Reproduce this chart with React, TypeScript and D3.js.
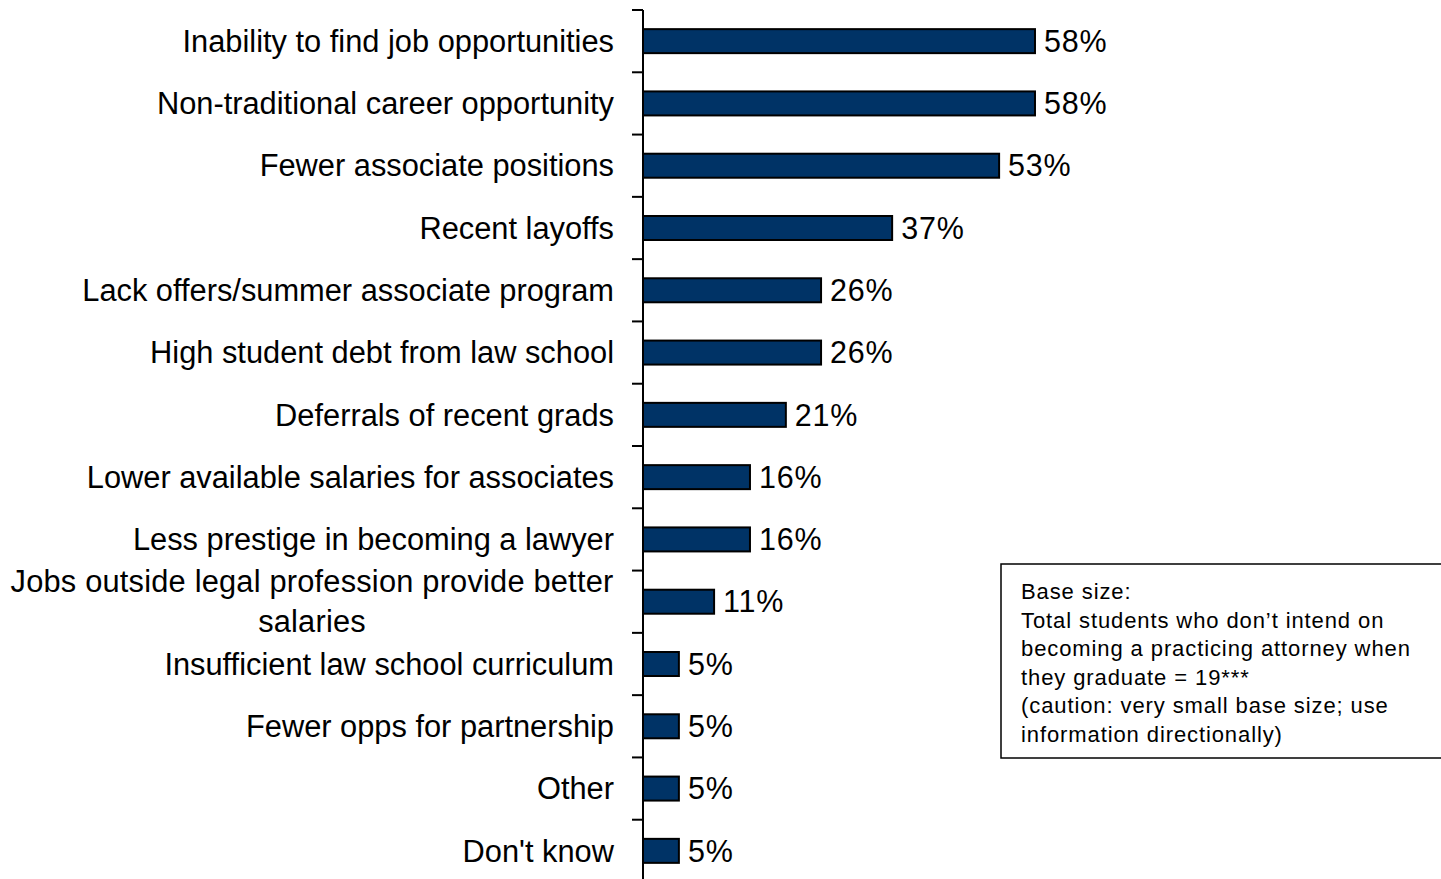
import React from "react";
import * as d3 from "d3";

const categories = [
  "Inability to find job opportunities",
  "Non-traditional career opportunity",
  "Fewer associate positions",
  "Recent layoffs",
  "Lack offers/summer associate program",
  "High student debt from law school",
  "Deferrals of recent grads",
  "Lower available salaries for associates",
  "Less prestige in becoming a lawyer",
  "Jobs outside legal profession provide better salaries",
  "Insufficient law school curriculum",
  "Fewer opps for partnership",
  "Other",
  "Don't know",
];
const values = [57.9, 57.9, 52.6, 36.8, 26.3, 26.3, 21.1, 15.8, 15.8, 10.5, 5.3, 5.3, 5.3, 5.3];
const valueLabels = ["58%", "58%", "53%", "37%", "26%", "26%", "21%", "16%", "16%", "11%", "5%", "5%", "5%", "5%"];
const noteLines = [
  "Base size:",
  "Total students who don\u2019t intend on",
  "becoming a practicing attorney when",
  "they graduate = 19***",
  "(caution: very small base size; use",
  "information directionally)",
];

const W = 1441;
const H = 879;
const axisX = 643;
const top = 10;
const bottom = 882;
const font = "'Liberation Sans', Arial, sans-serif";

export default function App() {
  const y = d3.scaleBand<string>().domain(categories).range([top, bottom]).paddingInner(0).paddingOuter(0);
  const x = d3.scaleLinear().domain([0, 100]).range([axisX, axisX + 677]);
  const bw = y.bandwidth();
  const barH = 24;
  const ticks = d3.range(categories.length + 1).map((i) => top + i * bw);

  const wrap = (s: string): string[] => {
    if (s === "Jobs outside legal profession provide better salaries") {
      return ["Jobs outside legal profession provide better", "salaries"];
    }
    return [s];
  };

  return (
    <svg width={W} height={H} style={{ position: "absolute", left: 0, top: 0, background: "#fff" }}>
      {categories.map((c, i) => {
        const cy = (y(c) as number) + bw / 2;
        const lines = wrap(c);
        return (
          <g key={c}>
            <rect
              x={x(0)}
              y={cy - barH / 2}
              width={x(values[i]) - x(0)}
              height={barH}
              fill="#003366"
              stroke="#000"
              strokeWidth={2}
            />
            <text
              x={x(values[i]) + 9}
              y={cy}
              dy="0.35em"
              fontFamily={font}
              fontSize={30.5}
              letterSpacing={0.8}
              fill="#000"
            >
              {valueLabels[i]}
            </text>
            {lines.length === 1 ? (
              <text x={614} y={cy} dy="0.35em" textAnchor="end" fontFamily={font} fontSize={30.8} fill="#000">
                {c}
              </text>
            ) : (
              <text x={312} y={cy} textAnchor="middle" fontFamily={font} fontSize={30.8} letterSpacing={0.2} fill="#000">
                {lines.map((l, k) => (
                  <tspan key={k} x={312} y={cy - 20 + k * 40} dy="0.35em">
                    {l}
                  </tspan>
                ))}
              </text>
            )}
          </g>
        );
      })}
      <line x1={axisX} x2={axisX} y1={top} y2={bottom} stroke="#000" strokeWidth={2} />
      {ticks.map((t, i) => (
        <line key={i} x1={632} x2={axisX} y1={t} y2={t} stroke="#000" strokeWidth={2} />
      ))}
      <rect x={1001} y={564} width={460} height={194} fill="#fff" stroke="#000" strokeWidth={1.5} />
      <text fontFamily={font} fontSize={22} letterSpacing={0.9} fill="#000">
        {noteLines.map((l, k) => (
          <tspan key={k} x={1021} y={599 + k * 28.6}>
            {l}
          </tspan>
        ))}
      </text>
    </svg>
  );
}
